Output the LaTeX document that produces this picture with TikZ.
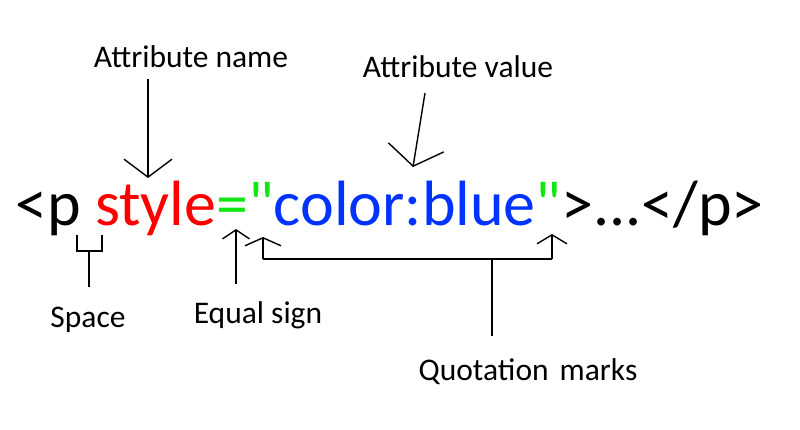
\documentclass[tikz,border=0pt]{standalone}
\usepackage{fontspec}
\setmainfont{Carlito}
\newfontfamily\codefont{Carlito}
\usetikzlibrary{arrows.meta}
\definecolor{attrred}{RGB}{255,0,0}
\definecolor{attrgreen}{RGB}{20,230,20}
\definecolor{attrblue}{RGB}{0,51,255}
\tikzset{
  lbl/.style={font=\fontsize{31.5}{31.5}\selectfont, inner sep=0pt, anchor=base},
  code/.style={font=\codefont\fontsize{64}{64}\selectfont, inner sep=0pt, anchor=base west},
  conn/.style={line width=1.4pt, black},
  barb/.style 2 args={conn, -{Straight Barb[length=#1pt, width=#2pt, line width=1.4pt]}}
}
\begin{document}
\begin{tikzpicture}[x=1pt,y=-1pt]
\useasboundingbox (0,0) rectangle (800,429);
\node[code] (html) at (15,225) {<p \textcolor{attrred}{style}\textcolor{attrgreen}{="}\textcolor{attrblue}{color:blue}\textcolor{attrgreen}{"}>...</p>};

\node[lbl] (aname) at (191,67) {Attribute name};
\node[lbl] (avalue) at (458,77) {Attribute value};
\node[lbl] (space) at (88,327) {Space};
\node[lbl] (equal) at (258,323) {Equal sign};
\node[lbl] (quote) at (528,380) {Quotation\hspace{4pt} marks};

% attribute name
\coordinate (anTop) at (148,79);
\coordinate (anTip) at (148,178);
\draw[barb={18}{48}] (anTop) -- (anTip);

% attribute value
\coordinate (avTop) at (425,93);
\coordinate (avTip) at (413,167);
\draw[barb={19}{56}] (avTop) -- (avTip);

% space bracket
\coordinate (spL) at (77,235);
\coordinate (spR) at (102,235);
\coordinate (spM) at (89,251);
\coordinate (spBot) at (89,287);
\draw[conn] (spL) |- (spM) -| (spR);
\draw[conn] (spM) -- (spBot);

% equal sign
\coordinate (eqBot) at (236,284);
\coordinate (eqTip) at (236,229);
\draw[barb={9}{27}] (eqBot) -- (eqTip);

% quotation marks
\coordinate (qL) at (263,259);
\coordinate (qLTip) at (263,237);
\coordinate (qR) at (552,259);
\coordinate (qRTip) at (552,234);
\coordinate (qM) at (492,259);
\coordinate (qBot) at (492,336);
\draw[conn] (qL) -- (qR);
\draw[barb={8}{36}] (qL) -- (qLTip);
\draw[barb={9}{30}] (qR) -- (qRTip);
\draw[conn] (qM) -- (qBot);
\end{tikzpicture}
\end{document}
